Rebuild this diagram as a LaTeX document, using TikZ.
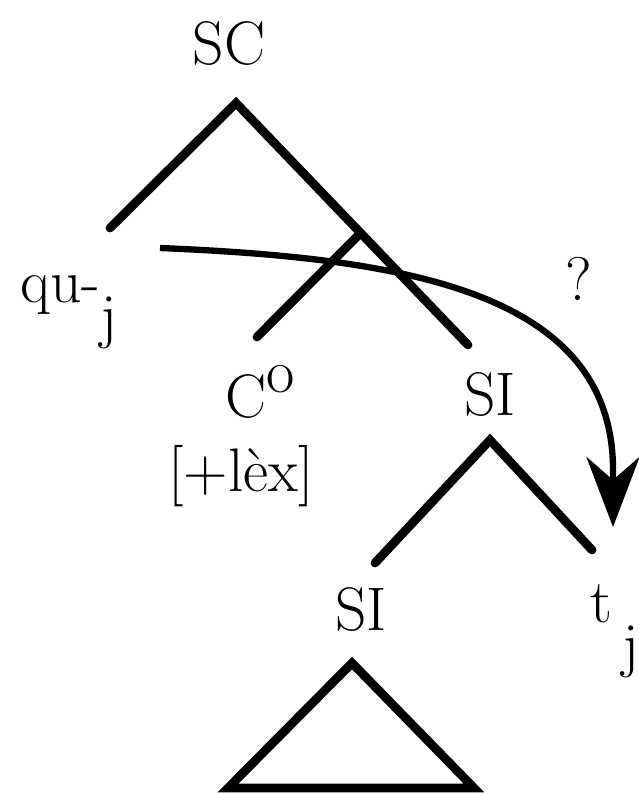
\documentclass[tikz,border=0pt]{standalone}
\usepackage{fontspec}
\usetikzlibrary{arrows.meta,calc}

\begin{document}
\begin{tikzpicture}[x=0.02cm,y=-0.02cm,>=Stealth,
  font=\fontsize{35}{40}\selectfont,
  lbl/.style={inner sep=0pt,anchor=base},
  branch/.style={line width=5pt,line cap=round},
  move/.style={line width=3.6pt,->,>={Stealth[length=1.4cm,width=1.06cm,inset=0.46cm]}}]
\useasboundingbox (0,0) rectangle (638,793);
% category labels
\node[lbl] (sc) at (229,65) {SC};
\node[lbl,anchor=base west] (qu) at (20,303) {qu-\raisebox{-19pt}{j}};
\node[lbl] (co) at (260,417) {C\raisebox{.4em}{o}};
\node[lbl] (lex) at (241,491) {[+lèx]};
\node[lbl] (si1) at (490,415) {SI};
\node[lbl] (si2) at (361,630) {SI};
\node[lbl,anchor=base west] (tj) at (590,622) {t\,\raisebox{-25pt}{j}};
\node[lbl] (q) at (579,300) {?};
% branch points
\coordinate (sc-top) at (236,103);
\coordinate (qu-top) at (110,228);
\coordinate (si1-top) at (468,345);
\coordinate (cbar) at ($(sc-top)!0.537!(si1-top)$);
\coordinate (co-top) at (257,337);
\coordinate (si-fork) at (490,440);
\coordinate (si2-top) at (375,563);
\coordinate (tj-top) at (592,550);
\coordinate (tri-top) at (352,663);
\coordinate (tri-l) at (228,788);
\coordinate (tri-r) at (474,788);
% tree
\draw[branch] (qu-top) -- (sc-top) -- (si1-top);
\draw[branch] (cbar) -- (co-top);
\draw[branch] (si2-top) -- (si-fork) -- (tj-top);
\draw[branch] (tri-top) -- (tri-l) -- (tri-r) -- cycle;
% movement of qu- to t
\coordinate (mv-start) at (160,248);
\coordinate (mv-end) at (613,527);
\draw[move] (mv-start) .. controls (400,258) and (613,290) .. (613,470) -- (mv-end);
\end{tikzpicture}
\end{document}
